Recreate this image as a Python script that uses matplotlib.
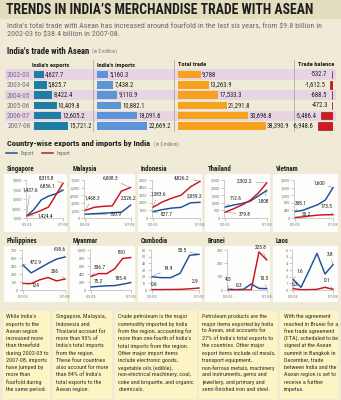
import matplotlib
matplotlib.use('Agg')
import matplotlib.pyplot as plt
from matplotlib import font_manager as fm
from matplotlib.patches import Rectangle
from matplotlib.lines import Line2D

W, H = 341, 400
_names = {f.name for f in fm.fontManager.ttflist}
def pick(*cands):
    for n in cands:
        if n in _names:
            return n
    return 'DejaVu Sans'
NARROW = pick('Liberation Sans Narrow', 'Roboto Condensed', 'Liberation Sans')
plt.rcParams['font.family'] = [NARROW, 'DejaVu Sans']

# ---------------- data ----------------
years = ['2002-03', '2003-04', '2004-05', '2005-06', '2006-07', '2007-08']
india_exports = [4627.7, 5825.7, 8422.4, 10409.8, 12605.2, 15721.2]
india_imports = [5160.3, 7438.2, 9110.9, 10882.1, 18091.6, 22669.2]
total_trade = [9788, 13263.9, 17533.3, 21291.8, 30696.8, 38390.9]
trade_balance = [-532.7, -1612.5, -688.5, -472.3, -5486.4, -6948.6]

countries = ['Singapore', 'Malaysia', 'Indonesia', 'Thailand', 'Vietnam',
             'Philippines', 'Myanmar', 'Cambodia', 'Brunei', 'Laos']
singapore_export = [1437.6, 2800, 4800, 5600, 6100, 6856.1]
singapore_import = [1424.4, 2000, 2600, 3300, 5800, 8315.8]
malaysia_export = [750.9, 850, 950, 1050, 1150, 2526.2]
malaysia_import = [1468.3, 2100, 2300, 2400, 5300, 6008.3]
indonesia_export = [827.7, 1100, 1300, 1400, 2000, 2059.2]
indonesia_import = [1383.6, 2100, 2600, 3000, 4100, 4826.2]
thailand_export = [712.6, 850, 950, 1100, 1450, 1808]
thailand_import = [379.8, 600, 850, 1150, 1650, 2302.2]
vietnam_export = [338.1, 400, 550, 700, 950, 1600]
vietnam_import = [20.2, 60, 110, 150, 170, 173.5]
philippines_export = [472.9, 320, 410, 500, 580, 618.6]
philippines_import = [124, 120, 190, 235, 170, 206]
myanmar_export = [75.2, 90, 105, 110, 145, 185.4]
myanmar_import = [336.7, 410, 410, 530, 790, 810]
cambodia_export = [19.9, 18.5, 18.5, 25, 52, 53.5]
cambodia_import = [0.6, 0.6, 0.8, 1.0, 1.8, 2.9]
brunei_export = [4.5, 3, 5, 45, 12, 10.5]
brunei_import = [0.3, 0.3, 0.3, 1, 285, 225.8]
laos_export = [1.6, 0.4, 2.9, 5.5, 2.4, 3.8]
laos_import = [0.2, 0.05, 0.05, 0.1, 0.4, 0.1]

singapore_ticks = [1000, 3000, 5000, 7000, 9000]
malaysia_ticks = [0, 1500, 3000, 4500, 6000, 7500]
indonesia_ticks = [0, 1000, 2000, 3000, 4000, 5000]
thailand_ticks = [0, 500, 1000, 1500, 2000, 2500]
vietnam_ticks = [0, 400, 800, 1200, 1600, 2000]
philippines_ticks = [0, 150, 300, 450, 600, 750]
myanmar_ticks = [0, 200, 400, 600, 800, 1000]
cambodia_ticks = [0, 10, 20, 30, 40, 50, 60]
brunei_ticks = [0, 100, 200, 300]
laos_ticks = [0, 1, 2, 3, 4, 5, 6]
x_tick_labels = ['\u201902-03', '\u201907-08']

notes = [
    ["While India's", "exports to the", "Asean region", "increased more", "than threefold",
     "during 2002-03 to", "2007-08, imports", "have jumped by", "more than",
     "fourfold during", "the same period."],
    ["Singapore, Malaysia,", "Indonesia and", "Thailand account for", "more than 93% of",
     "India's total imports", "from the region.", "These four countries",
     "also account for more", "than 84% of India's", "total exports to the", "Asean region."],
    ["Crude petroleum is the major", "commodity imported by India",
     "from the region, accounting for", "more than one-fourth of India's",
     "total imports from the region.", "Other major import items",
     "include electronic goods,", "vegetable oils (edible),",
     "non-electrical machinery, coal,", "coke and briquette, and organic", "chemicals."],
    ["Petroleum products are the", "major items exported by India",
     "to Asean, and accounts for", "27% of India's total exports to",
     "the countries. Other major", "export items include oil meals,",
     "transport equipment,", "non-ferrous metals, machinery",
     "and instruments, gems and", "jewellery, and primary and",
     "semi-finished iron and steel."],
    ["With the agreement", "reached in Brunei for a", "free trade agreement",
     "(FTA), scheduled to be", "signed at the Asean", "summit in Bangkok in",
     "December, trade", "between India and the", "Asean region is set to",
     "receive a further", "impetus."],
]

# ---------------- styles ----------------
BG = '#efebd6'
BAND = '#e3dec0'
PINK = '#e8d5e4'
C_EXP = '#1f7ea6'
C_IMP = '#5d93d8'
C_TOT = '#f7a11c'
C_BAL = '#d3191f'
L_EXP = '#1d4f9a'
L_IMP = '#c9141e'
DARK = '#1e1e1e'

def fmt(v):
    s = f"{v:,.1f}"
    return s[:-2] if s.endswith('.0') else s

fig = plt.figure(figsize=(W / 100, H / 100), dpi=100)
fig.patch.set_facecolor(BG)
bg = fig.add_axes([0, 0, 1, 1])
bg.set_xlim(0, W); bg.set_ylim(H, 0); bg.axis('off'); bg.set_zorder(-5)
R = fig.canvas.get_renderer()

def fit(t, w):
    bb = t.get_window_extent(R)
    t.set_fontsize(t.get_fontsize() * w / bb.width)
    return t.get_fontsize()

def pax(x0, y0, x1, y1):
    return fig.add_axes([x0 / W, 1 - y1 / H, (x1 - x0) / W, (y1 - y0) / H])

# title
bg.add_patch(Rectangle((0, 0), W, 18.5, color=BAND, lw=0))
t = bg.text(6, 9.6, 'TRENDS IN INDIA\u2019S MERCHANDISE TRADE WITH ASEAN', fontsize=10,
            weight='bold', color=DARK, va='center', ha='left')
fit(t, 307)
t = bg.text(7, 25.3, "India's total trade with Asean has increased around fourfold in the last six years, from $9.8 billion in",
            fontsize=5, color='#6a6a6a', va='center')
fs = fit(t, 321)
bg.text(7, 33.8, "2002-03 to $38.4 billion in 2007-08.", fontsize=fs, color='#6a6a6a', va='center')

t = bg.text(7, 51, "India's trade with Asean", fontsize=6, weight='bold', color=DARK, va='center')
fs_h = fit(t, 83)
bg.text(92, 51.5, "(in $ million)", fontsize=3.6, color='#777', va='center')

# table
ROW0, PITCH = 74.6, 10.26
for i in (0, 2, 4):
    bg.add_patch(Rectangle((5, ROW0 + i * PITCH - PITCH / 2), 331, PITCH, color=PINK, lw=0))
for xs in (92.6, 173.6, 293.6):
    bg.plot([xs, xs], [60, 131], color='#a0a0a0', lw=0.5)
hdr_fs = 4.6
for x, s in ((32, "India's exports"), (97, "India's imports"), (178.5, 'Total trade'), (297.5, 'Trade balance')):
    bg.text(x, 65, s, fontsize=hdr_fs, weight='bold', color=DARK, va='center')

ytop_t, ybot_t = ROW0 - PITCH / 2, ROW0 + 5.5 * PITCH
VAL_FS = 4.7

def table_ax(x0, x1, vmin, vmax):
    a = pax(x0, ytop_t, x1, ybot_t)
    a.set_xlim(vmin, vmax); a.set_ylim(5.5, -0.5)
    a.patch.set_alpha(0)
    for sp in a.spines.values():
        sp.set_visible(False)
    a.set_xticks([])
    a.tick_params(axis='y', length=0)
    return a

ax_e = table_ax(34, 90, 0, 56 / 2.18 * 1000)
ax_e.barh(range(6), india_exports, height=0.72, color=C_EXP)
ax_e.set_yticks(range(6))
ax_e.set_yticklabels(years, fontsize=5.3, color='#7a6a8c')
ax_e.tick_params(axis='y', pad=2.6)
for i, v in enumerate(india_exports):
    ax_e.annotate(fmt(v), (v, i), xytext=(0.8, 0), textcoords='offset points',
                  va='center', ha='left', fontsize=VAL_FS, color=DARK)

ax_i = table_ax(96.7, 170, 0, 73.3 / 2.24 * 1000)
ax_i.set_yticks([])
ax_i.barh(range(6), india_imports, height=0.72, color=C_IMP)
for i, v in enumerate(india_imports):
    ax_i.annotate(fmt(v), (v, i), xytext=(0.8, 0), textcoords='offset points',
                  va='center', ha='left', fontsize=VAL_FS, color=DARK)

ax_t = table_ax(178.3, 291, 0, 112.7 / 2.28 * 1000)
ax_t.set_yticks([])
ax_t.barh(range(6), total_trade, height=0.72, color=C_TOT)
for i, v in enumerate(total_trade):
    ax_t.annotate(fmt(v), (v, i), xytext=(0.8, 0), textcoords='offset points',
                  va='center', ha='left', fontsize=VAL_FS, color=DARK)

ax_b = table_ax(296, 333.3, -37.3 / 2.16 * 1000, 0)
ax_b.set_yticks([])
ax_b.barh(range(6), trade_balance, height=0.72, color=C_BAL, edgecolor='#6b0d10', lw=0.4)
for i, v in enumerate(trade_balance):
    ax_b.annotate(fmt(v), (v, i), xytext=(-3.2, 0), textcoords='offset points',
                  va='center', ha='right', fontsize=VAL_FS, color=DARK, annotation_clip=False)

# country section
t = bg.text(7, 143.3, 'Country-wise exports and imports by India', fontsize=7, weight='bold',
            color=DARK, va='center')
fit(t, 145)
bg.text(154, 144, '(in $ million)', fontsize=3.6, color='#777', va='center')
handles = [Line2D([], [], color=L_EXP, lw=1.1), Line2D([], [], color=L_IMP, lw=1.1)]
fig.legend(handles, ['Export', 'Import'], loc='center left', bbox_to_anchor=(6 / W, 1 - 153.3 / H),
           ncol=2, frameon=False, fontsize=3.8, handlelength=2.1, handletextpad=0.75,
           columnspacing=1.4, borderpad=0, borderaxespad=0, labelcolor='#666')

exports_all = [singapore_export, malaysia_export, indonesia_export, thailand_export, vietnam_export,
               philippines_export, myanmar_export, cambodia_export, brunei_export, laos_export]
imports_all = [singapore_import, malaysia_import, indonesia_import, thailand_import, vietnam_import,
               philippines_import, myanmar_import, cambodia_import, brunei_import, laos_import]
ticks_all = [singapore_ticks, malaysia_ticks, indonesia_ticks, thailand_ticks, vietnam_ticks,
             philippines_ticks, myanmar_ticks, cambodia_ticks, brunei_ticks, laos_ticks]

box_l = [4, 70, 138, 205, 273]
box_r = [67, 135, 202, 270, 338]
row_title = [169.3, 241.3]
row_box = [(173.5, 232), (245.5, 302)]
row_plot = [(180, 218), (250, 290)]
row_xlab = [226.7, 295.3]
x_first = [26.7, 85, 152.7, 225, 295, 22.7, 90.7, 151.7, 228, 293]
x_last = [63, 130.5, 200, 266.7, 333, 65, 130.7, 199, 266.7, 333]
# label placements: (series, index, centre x px, centre y px)
labels = [
    [('i', 5, 46.7, 177.7), ('e', 5, 48, 185.7), ('e', 0, 30, 190), ('i', 0, 45, 215.7)],
    [('i', 5, 110, 178.3), ('i', 0, 92.5, 198.3), ('e', 0, 116, 215), ('e', 5, 129, 198.3)],
    [('i', 5, 181.7, 177.7), ('i', 0, 158, 194.3), ('e', 5, 195, 196), ('e', 0, 166.7, 215)],
    [('i', 5, 245, 181), ('e', 0, 236, 198.3), ('e', 5, 263.5, 201), ('i', 0, 245, 214.3)],
    [('e', 5, 319, 183.3), ('e', 0, 301, 203.3), ('i', 5, 326.7, 206.7), ('i', 0, 306, 214.3)],
    [('e', 5, 59.8, 249.7), ('e', 0, 35.5, 262), ('i', 5, 54.7, 271.3), ('i', 0, 35.5, 285.3)],
    [('i', 5, 122, 253), ('i', 0, 99.7, 267.3), ('e', 0, 98, 281.3), ('e', 5, 120, 278)],
    [('e', 5, 182, 250.7), ('e', 0, 168.3, 268.7), ('i', 0, 153.7, 284), ('i', 5, 195, 281.3)],
    [('i', 5, 261, 247.3), ('e', 0, 228.3, 279.7), ('i', 0, 238.8, 285.3), ('e', 5, 263.8, 278.7)],
    [('e', 5, 330, 254), ('e', 0, 300, 271.3), ('i', 0, 294.7, 284), ('i', 5, 326.7, 280.3)],
]

title_fs = None
for k, name in enumerate(countries):
    r, c = divmod(k, 5)
    L, Rr = box_l[c], box_r[c]
    yb0, yb1 = row_box[r]
    bg.add_patch(Rectangle((L, yb0), Rr - L, yb1 - yb0, color='#fdfdfb', lw=0))
    tt = bg.text(L + 3, row_title[r], name, fontsize=5, weight='bold', color=DARK, va='center')
    if title_fs is None:
        title_fs = fit(tt, 28)
    else:
        tt.set_fontsize(title_fs)
    x0, x5 = x_first[k], x_last[k]
    dx = (x5 - x0) / 5
    yt, yb = row_plot[r]
    ax = pax(x0 - 0.12 * dx, yt, x5, yb)
    ax.patch.set_alpha(0)
    ax.set_xlim(-0.12, 5)
    tk = ticks_all[k]
    ax.set_ylim(tk[0], tk[-1])
    ax.plot(range(6), exports_all[k], color=L_EXP, lw=1.05, clip_on=False, solid_joinstyle='round')
    ax.plot(range(6), imports_all[k], color=L_IMP, lw=1.05, clip_on=False, solid_joinstyle='round')
    for s in ('top', 'right'):
        ax.spines[s].set_visible(False)
    for s in ('left', 'bottom'):
        ax.spines[s].set_color('#b0b0b0'); ax.spines[s].set_linewidth(0.45)
    ax.set_yticks(tk)
    if name == 'Indonesia':
        ax.set_yticklabels([str(v) for v in tk])
    else:
        ax.set_yticklabels([f"{v:,}" for v in tk])
    ax.set_xticks([0, 5])
    ax.set_xticklabels(x_tick_labels)
    ax.tick_params(axis='both', labelsize=3.2, labelcolor='#7a7a7a', color='#a0a0a0',
                   length=2.0, width=0.4, pad=1.0)
    ax.tick_params(axis='x', pad=1.6)
    for (sr, idx, cx, cy) in labels[k]:
        val = exports_all[k][idx] if sr == 'e' else imports_all[k][idx]
        ax.annotate(fmt(val), xy=(idx, val), xytext=(cx, H - cy), textcoords='figure pixels',
                    ha='center', va='center', fontsize=3.9, color=DARK, annotation_clip=False,
                    arrowprops=dict(arrowstyle='-', lw=0.3, color='#666', shrinkA=0.3, shrinkB=0.5))

# notes
note_l = [3, 53, 115, 199, 280]
note_r = [50, 112, 197, 277, 338]
note_fs = None
for j, lines in enumerate(notes):
    bg.add_patch(Rectangle((note_l[j], 310.5), note_r[j] - note_l[j], 88, color='#fcf4c2', lw=0))
for j, lines in enumerate(notes):
    for n, line in enumerate(lines):
        tx = bg.text(note_l[j] + 3.5, 316.8 + n * 7.27, line, fontsize=4.3, color='#333', va='center')
        if j == 0 and n == 5:
            note_fs = fit(tx, 43)
    
for txt in bg.texts:
    pass
# apply fitted note size to all note texts
for tx in bg.texts:
    if tx.get_position()[1] > 310:
        tx.set_fontsize(note_fs)

fig.savefig('out.png', dpi=100, facecolor=BG)
